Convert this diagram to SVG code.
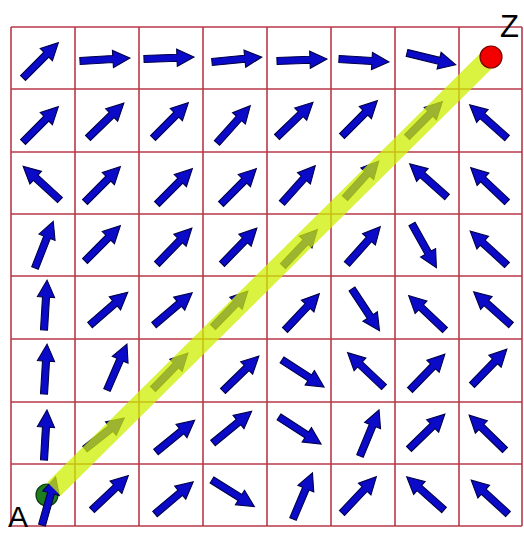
<svg xmlns="http://www.w3.org/2000/svg" xmlns:xlink="http://www.w3.org/1999/xlink" width="524" height="534" viewBox="0 0 524 534">
<style>
.grid line{stroke:#b8394a;stroke-width:1.6}
.ar{fill:#0a0ac8;stroke:#00004a;stroke-width:1.1;stroke-linejoin:miter}
.lbl{font-family:"Liberation Sans",Arial,sans-serif;fill:#000}
</style>
<defs>
<path id="ar" class="ar" d="M0,-3.5 H33 V-8.6 L50,0 L33,8.6 V3.5 H0 Z"/>
</defs>
<rect width="524" height="534" fill="#fff"/>
<g id="grid" class="grid">
<line x1="11" y1="27" x2="11" y2="526"/><line x1="75" y1="27" x2="75" y2="526"/><line x1="139" y1="27" x2="139" y2="526"/><line x1="203" y1="27" x2="203" y2="526"/><line x1="267" y1="27" x2="267" y2="526"/><line x1="331" y1="27" x2="331" y2="526"/><line x1="395" y1="27" x2="395" y2="526"/><line x1="459" y1="27" x2="459" y2="526"/><line x1="522" y1="27" x2="522" y2="526"/>
<line x1="11" y1="27" x2="522" y2="27"/><line x1="11" y1="89" x2="522" y2="89"/><line x1="11" y1="152" x2="522" y2="152"/><line x1="11" y1="214" x2="522" y2="214"/><line x1="11" y1="276" x2="522" y2="276"/><line x1="11" y1="339" x2="522" y2="339"/><line x1="11" y1="402" x2="522" y2="402"/><line x1="11" y1="464" x2="522" y2="464"/><line x1="11" y1="526" x2="522" y2="526"/>
</g>
<g id="nodeA"><circle cx="47" cy="495" r="11" fill="#1e7d1e" stroke="#0c3d0c" stroke-width="1.2"/></g>
<g id="field">
<use xlink:href="#ar" transform="translate(23,78) rotate(-45)"/>
<use xlink:href="#ar" transform="translate(80,61) rotate(-3.4)"/>
<use xlink:href="#ar" transform="translate(144,59) rotate(-2.2)"/>
<use xlink:href="#ar" transform="translate(212,62) rotate(-5.7)"/>
<use xlink:href="#ar" transform="translate(277,61) rotate(-2.2)"/>
<use xlink:href="#ar" transform="translate(339,59) rotate(3.4)"/>
<use xlink:href="#ar" transform="translate(407,53) rotate(13.5)"/>

<use xlink:href="#ar" transform="translate(23,142) rotate(-45)"/>
<use xlink:href="#ar" transform="translate(88,138) rotate(-44.2)"/>
<use xlink:href="#ar" transform="translate(153,138) rotate(-45)"/>
<use xlink:href="#ar" transform="translate(217,143) rotate(-48.3)"/>
<use xlink:href="#ar" transform="translate(277,137) rotate(-44)"/>
<use xlink:href="#ar" transform="translate(342,136) rotate(-45)"/>
<use xlink:href="#ar" transform="translate(407,137) rotate(-45)"/>
<use xlink:href="#ar" transform="translate(507,138) rotate(-138.3)"/>

<use xlink:href="#ar" transform="translate(60,200) rotate(-137.5)"/>
<use xlink:href="#ar" transform="translate(85,202) rotate(-45)"/>
<use xlink:href="#ar" transform="translate(157,204) rotate(-45)"/>
<use xlink:href="#ar" transform="translate(221,204) rotate(-45)"/>
<use xlink:href="#ar" transform="translate(282,203) rotate(-48.3)"/>
<use xlink:href="#ar" transform="translate(345,198) rotate(-47.6)"/>
<use xlink:href="#ar" transform="translate(447,197) rotate(-138.3)"/>
<use xlink:href="#ar" transform="translate(507,202) rotate(-136.6)"/>

<use xlink:href="#ar" transform="translate(35,268) rotate(-68.6)"/>
<use xlink:href="#ar" transform="translate(85,261) rotate(-45)"/>
<use xlink:href="#ar" transform="translate(157,264) rotate(-45.8)"/>
<use xlink:href="#ar" transform="translate(222,264) rotate(-45.8)"/>
<use xlink:href="#ar" transform="translate(283,266) rotate(-46.6)"/>
<use xlink:href="#ar" transform="translate(347,264) rotate(-48.3)"/>
<use xlink:href="#ar" transform="translate(412,224) rotate(60.8)"/>
<use xlink:href="#ar" transform="translate(507,265) rotate(-137.4)"/>

<use xlink:href="#ar" transform="translate(44,330) rotate(-86.5)"/>
<use xlink:href="#ar" transform="translate(90,325) rotate(-41)"/>
<use xlink:href="#ar" transform="translate(154,325) rotate(-40.2)"/>
<use xlink:href="#ar" transform="translate(213,327) rotate(-45.8)"/>
<use xlink:href="#ar" transform="translate(285,330) rotate(-46.6)"/>
<use xlink:href="#ar" transform="translate(352,289) rotate(56.6)"/>
<use xlink:href="#ar" transform="translate(445,330) rotate(-136.6)"/>
<use xlink:href="#ar" transform="translate(511,325) rotate(-138.3)"/>

<use xlink:href="#ar" transform="translate(44,394) rotate(-86.5)"/>
<use xlink:href="#ar" transform="translate(107,390) rotate(-66.5)"/>
<use xlink:href="#ar" transform="translate(153,389) rotate(-45.8)"/>
<use xlink:href="#ar" transform="translate(223,391) rotate(-44.2)"/>
<use xlink:href="#ar" transform="translate(282,360) rotate(32.7)"/>
<use xlink:href="#ar" transform="translate(384,387) rotate(-136.7)"/>
<use xlink:href="#ar" transform="translate(410,390) rotate(-45.8)"/>
<use xlink:href="#ar" transform="translate(472,385) rotate(-45.8)"/>

<use xlink:href="#ar" transform="translate(44,460) rotate(-86.6)"/>
<use xlink:href="#ar" transform="translate(85,449) rotate(-38.3)"/>
<use xlink:href="#ar" transform="translate(156,452) rotate(-39.4)"/>
<use xlink:href="#ar" transform="translate(213,443) rotate(-39.4)"/>
<use xlink:href="#ar" transform="translate(279,417) rotate(32.7)"/>
<use xlink:href="#ar" transform="translate(360,456) rotate(-67.6)"/>
<use xlink:href="#ar" transform="translate(409,449) rotate(-44.2)"/>
<use xlink:href="#ar" transform="translate(505,450) rotate(-135.8)"/>

<use xlink:href="#ar" transform="translate(42,525) rotate(-74.2)"/>
<use xlink:href="#ar" transform="translate(92,510) rotate(-43.4)"/>
<use xlink:href="#ar" transform="translate(155,514) rotate(-40.1)"/>
<use xlink:href="#ar" transform="translate(212,480) rotate(32.1)"/>
<use xlink:href="#ar" transform="translate(293,519) rotate(-67.1)"/>
<use xlink:href="#ar" transform="translate(342,513) rotate(-46.6)"/>
<use xlink:href="#ar" transform="translate(444,510) rotate(-138.3)"/>
<use xlink:href="#ar" transform="translate(508,514) rotate(-137.4)"/>
</g>
<g id="connectors">
<line x1="54" y1="489" x2="490" y2="57" stroke="#cdee00" stroke-opacity="0.75" stroke-width="19"/>
</g>
<g id="nodeZ"><circle cx="491" cy="57" r="11" fill="#f20000" stroke="#7a0000" stroke-width="1.2"/></g>
<text class="lbl" x="500" y="37" font-size="31">Z</text>
<text class="lbl" x="8" y="527" font-size="30">A</text>
</svg>
